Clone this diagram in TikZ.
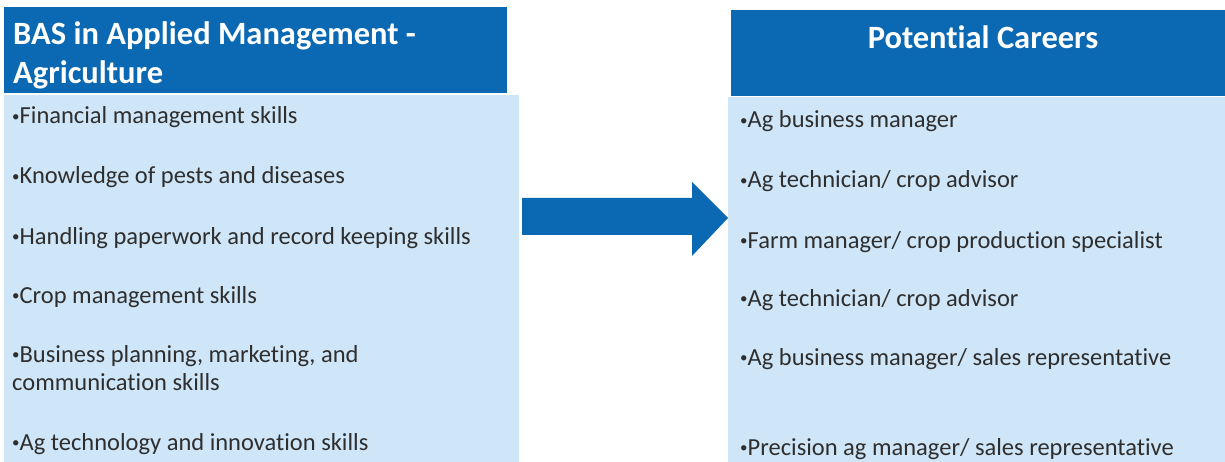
\documentclass[tikz,border=0pt]{standalone}
\usepackage{fontspec}
\setmainfont[Ligatures=NoCommon]{Carlito}
\definecolor{hdr}{HTML}{0A69B2}
\definecolor{bdy}{HTML}{CFE6F8}
\definecolor{txt}{HTML}{2E2E2E}
\newcommand{\bul}{{\fontsize{15}{15}\selectfont\raisebox{2.5pt}{•}}}
\begin{document}
\begin{tikzpicture}[x=1pt,y=-1pt,
  hdrbox/.style={fill=hdr,draw=none},
  bodybox/.style={fill=bdy,draw=none},
  item/.style={anchor=base west,inner sep=0pt,text=txt,font=\fontsize{24.5}{29}\selectfont},
  htext/.style={inner sep=0pt,text=white,font=\fontsize{32.5}{40}\selectfont\bfseries}]
\useasboundingbox (0,0) rectangle (1225,462);
\fill[white] (0,0) rectangle (1225,462);
% left box
\fill[bodybox] (4,95) rectangle (519,462);
\node[hdrbox,minimum width=503,minimum height=86,anchor=north west,inner sep=0pt] (lh) at (4,7) {};
\node[htext,anchor=base west] (lt1) at (13,45) {BAS in Applied Management -};
\node[htext,anchor=base west] (lt2) at (13,84) {Agriculture};
% right box
\fill[bodybox] (728,97) rectangle (1225,462);
\node[hdrbox,minimum width=494,minimum height=86,anchor=north west,inner sep=0pt] (rh) at (731,10) {};
\node[htext,anchor=base] (rt) at (983,49) {Potential Careers};
% left items
\node[item] (l1) at (12,124) {\bul Financial management skills};
\node[item] (l2) at (12,184) {\bul Knowledge of pests and diseases};
\node[item] (l3) at (12,244) {\bul Handling paperwork and record keeping skills};
\node[item] (l4) at (12,303) {\bul Crop management skills};
\node[item] (l5) at (12,362) {\bul Business planning, marketing, and};
\node[item] (l5b) at (12,390) {communication skills};
\node[item] (l6) at (12,450) {\bul Ag technology and innovation skills};
% right items
\node[item] (r1) at (740,128) {\bul Ag business manager};
\node[item] (r2) at (740,188) {\bul Ag technician/ crop advisor};
\node[item] (r3) at (740,248) {\bul Farm manager/ crop production specialist};
\node[item] (r4) at (740,306) {\bul Ag technician/ crop advisor};
\node[item] (r5) at (740,365) {\bul Ag business manager/ sales representative};
\node[item] (r6) at (740,455) {\bul Precision ag manager/ sales representative};
% arrow
\fill[hdr] (522,198) -- (692,198) -- (692,182) -- (728,218) -- (692,256) -- (692,235) -- (522,235) -- cycle;
\end{tikzpicture}
\end{document}
